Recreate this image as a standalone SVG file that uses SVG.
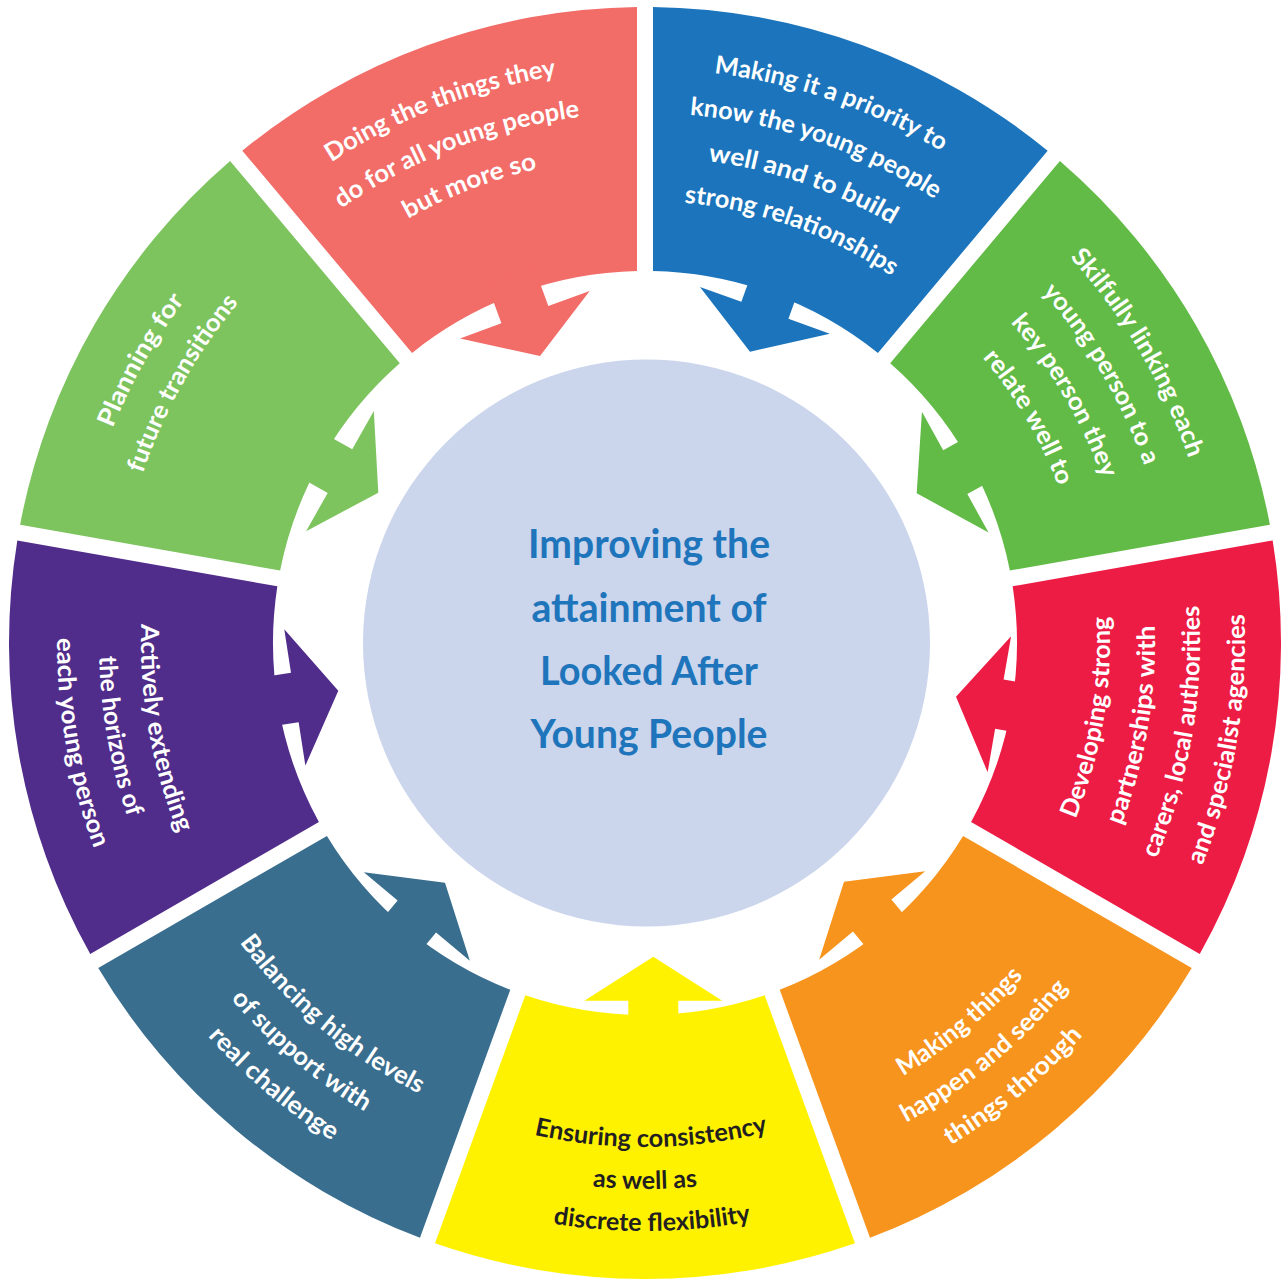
<svg xmlns="http://www.w3.org/2000/svg" width="1284" height="1279" viewBox="0 0 1284 1279">
<style>
.st { font-family: Lato, "Open Sans", sans-serif; font-weight: 700; font-size: 25px; fill: #ffffff; text-anchor: middle; }
.dark { fill: #231F20; }
.ct { font-family: Lato, "Open Sans", sans-serif; font-weight: 700; font-size: 40px; fill: #1E75BB; text-anchor: middle; }
.c1 { fill: #F26C68; }
.c2 { fill: #1C75BC; }
.c3 { fill: #62BB46; }
.c4 { fill: #ED1C45; }
.c5 { fill: #F7941D; }
.c6 { fill: #FFF200; }
.c7 { fill: #3A6E8F; }
.c8 { fill: #512D8B; }
.c9 { fill: #7DC45F; }
</style>
<defs>
<path id="sector" d="M-209.99,-600.33 A636,636 0 0 1 209.99,-600.33 L119.68,-352.22 A372,372 0 0 0 -119.68,-352.22 Z"/>
<path id="arrow" d="M0,0 L69,-44 L25,-44 L25,-84 L-25,-84 L-25,-44 L-69,-44 Z"/>
<path id="t574" d="M315.77,172.81 A574,574 0 0 1 974.23,172.81"/>
<path id="t530" d="M341.00,208.85 A530,530 0 0 1 949.00,208.85"/>
<path id="t486" d="M366.24,244.89 A486,486 0 0 1 923.76,244.89"/>
<path id="t442" d="M391.48,280.93 A442,442 0 0 1 898.52,280.93"/>
<path id="b465" d="M378.29,1023.91 A465,465 0 0 0 911.71,1023.91"/>
<path id="b504" d="M355.92,1055.85 A504,504 0 0 0 934.08,1055.85"/>
<path id="b510" d="M352.48,1060.77 A510,510 0 0 0 937.52,1060.77"/>
<path id="b546" d="M331.83,1090.26 A546,546 0 0 0 958.17,1090.26"/>
<path id="b555" d="M326.67,1097.63 A555,555 0 0 0 963.33,1097.63"/>
<path id="b588" d="M307.74,1124.66 A588,588 0 0 0 982.26,1124.66"/>
<path id="b600" d="M300.85,1134.49 A600,600 0 0 0 989.15,1134.49"/>
</defs>
<rect x="0" y="0" width="1284" height="1279" fill="#ffffff"/>

<g id="center">
<circle cx="646.5" cy="643" r="283.5" fill="#CBD5EC"/>
<text class="ct" x="649" y="558" textLength="242" lengthAdjust="spacingAndGlyphs">Improving the</text>
<text class="ct" x="649" y="621.5" textLength="235" lengthAdjust="spacingAndGlyphs">attainment of</text>
<text class="ct" x="649" y="684.5" textLength="218" lengthAdjust="spacingAndGlyphs">Looked After</text>
<text class="ct" x="649" y="748" textLength="237" lengthAdjust="spacingAndGlyphs">Young People</text>
</g>

<g id="seg-doing">
<use href="#sector" class="c1" transform="translate(645,643) rotate(-20)"/>
<text class="st" transform="rotate(-21 645 643)"><textPath href="#t574" startOffset="50%" textLength="243" lengthAdjust="spacingAndGlyphs">Doing the things they</textPath></text>
<text class="st" transform="rotate(-21 645 643)"><textPath href="#t530" startOffset="50%" textLength="258" lengthAdjust="spacingAndGlyphs">do for all young people</textPath></text>
<text class="st" transform="rotate(-21 645 643)"><textPath href="#t486" startOffset="50%" textLength="139" lengthAdjust="spacingAndGlyphs">but more so</textPath></text>
</g>

<g id="seg-priority">
<use href="#sector" class="c2" transform="translate(645,643) rotate(20)"/>
<text class="st" transform="rotate(19 645 643)"><textPath href="#t574" startOffset="50%" textLength="242" lengthAdjust="spacingAndGlyphs">Making it a priority to</textPath></text>
<text class="st" transform="rotate(19 645 643)"><textPath href="#t530" startOffset="50%" textLength="262" lengthAdjust="spacingAndGlyphs">know the young people</textPath></text>
<text class="st" transform="rotate(19 645 643)"><textPath href="#t486" startOffset="50%" textLength="196" lengthAdjust="spacingAndGlyphs">well and to build</textPath></text>
<text class="st" transform="rotate(19.5 645 643)"><textPath href="#t442" startOffset="50%" textLength="222" lengthAdjust="spacingAndGlyphs">strong relationships</textPath></text>
</g>

<g id="seg-linking">
<use href="#sector" class="c3" transform="translate(645,643) rotate(60)"/>
<text class="st" transform="rotate(59.5 645 643)"><textPath href="#t574" startOffset="50%" textLength="235" lengthAdjust="spacingAndGlyphs">Skilfully linking each</textPath></text>
<text class="st" transform="rotate(59.5 645 643)"><textPath href="#t530" startOffset="50%" textLength="203" lengthAdjust="spacingAndGlyphs">young person to a</textPath></text>
<text class="st" transform="rotate(59.5 645 643)"><textPath href="#t486" startOffset="50%" textLength="182" lengthAdjust="spacingAndGlyphs">key person they</textPath></text>
<text class="st" transform="rotate(59.5 645 643)"><textPath href="#t442" startOffset="50%" textLength="150" lengthAdjust="spacingAndGlyphs">relate well to</textPath></text>
</g>

<g id="seg-partnerships">
<use href="#sector" class="c4" transform="translate(645,643) rotate(100)"/>
<text class="st" transform="rotate(-80.5 645 643)"><textPath href="#b465" startOffset="50%" textLength="207" lengthAdjust="spacingAndGlyphs">Developing strong</textPath></text>
<text class="st" transform="rotate(-80.5 645 643)"><textPath href="#b510" startOffset="50%" textLength="204" lengthAdjust="spacingAndGlyphs">partnerships with</textPath></text>
<text class="st" transform="rotate(-80.5 645 643)"><textPath href="#b555" startOffset="50%" textLength="259" lengthAdjust="spacingAndGlyphs">carers, local authorities</textPath></text>
<text class="st" transform="rotate(-80.5 645 643)"><textPath href="#b600" startOffset="50%" textLength="257" lengthAdjust="spacingAndGlyphs">and specialist agencies</textPath></text>
</g>

<g id="seg-making">
<use href="#sector" class="c5" transform="translate(645,643) rotate(140)"/>
<text class="st" transform="rotate(-39.7 645 643)"><textPath href="#b504" startOffset="50%" textLength="157" lengthAdjust="spacingAndGlyphs">Making things</textPath></text>
<text class="st" transform="rotate(-39.7 645 643)"><textPath href="#b546" startOffset="50%" textLength="212" lengthAdjust="spacingAndGlyphs">happen and seeing</textPath></text>
<text class="st" transform="rotate(-39.7 645 643)"><textPath href="#b588" startOffset="50%" textLength="173" lengthAdjust="spacingAndGlyphs">things through</textPath></text>
</g>

<g id="seg-consistency">
<use href="#sector" class="c6" transform="translate(645,643) rotate(180)"/>
<text class="st dark" transform="rotate(-0.7 645 643)"><textPath href="#b504" startOffset="50%" textLength="236" lengthAdjust="spacingAndGlyphs">Ensuring consistency</textPath></text>
<text class="st dark"><textPath href="#b546" startOffset="50%" textLength="105" lengthAdjust="spacingAndGlyphs">as well as</textPath></text>
<text class="st dark" transform="rotate(-0.7 645 643)"><textPath href="#b588" startOffset="50%" textLength="199" lengthAdjust="spacingAndGlyphs">discrete flexibility</textPath></text>
</g>

<g id="seg-balancing">
<use href="#sector" class="c7" transform="translate(645,643) rotate(220)"/>
<text class="st" transform="rotate(40.1 645 643)"><textPath href="#b504" startOffset="50%" textLength="237" lengthAdjust="spacingAndGlyphs">Balancing high levels</textPath></text>
<text class="st" transform="rotate(40.1 645 643)"><textPath href="#b546" startOffset="50%" textLength="176" lengthAdjust="spacingAndGlyphs">of support with</textPath></text>
<text class="st" transform="rotate(40.1 645 643)"><textPath href="#b588" startOffset="50%" textLength="163" lengthAdjust="spacingAndGlyphs">real challenge</textPath></text>
</g>

<g id="seg-horizons">
<use href="#sector" class="c8" transform="translate(645,643) rotate(260)"/>
<text class="st" transform="rotate(80 645 643)"><textPath href="#b504" startOffset="50%" textLength="214" lengthAdjust="spacingAndGlyphs">Actively extending</textPath></text>
<text class="st" transform="rotate(80 645 643)"><textPath href="#b546" startOffset="50%" textLength="164" lengthAdjust="spacingAndGlyphs">the horizons of</textPath></text>
<text class="st" transform="rotate(80 645 643)"><textPath href="#b588" startOffset="50%" textLength="215" lengthAdjust="spacingAndGlyphs">each young person</textPath></text>
</g>

<g id="seg-transitions">
<use href="#sector" class="c9" transform="translate(645,643) rotate(-60)"/>
<text class="st" transform="rotate(-60.7 645 643)"><textPath href="#t574" startOffset="50%" textLength="147" lengthAdjust="spacingAndGlyphs">Planning for</textPath></text>
<text class="st" transform="rotate(-60.7 645 643)"><textPath href="#t530" startOffset="50%" textLength="197" lengthAdjust="spacingAndGlyphs">future transitions</textPath></text>
</g>

<g id="connectors">
<use href="#arrow" class="c1" transform="translate(540,356) rotate(-20.1)"/>
<use href="#arrow" class="c2" transform="translate(750,351.7) rotate(19.8)"/>
<use href="#arrow" class="c3" transform="translate(916.7,493.3) rotate(61.15)"/>
<use href="#arrow" class="c4" transform="translate(956,696.7) rotate(99.8)"/>
<use href="#arrow" class="c5" transform="translate(844,881.7) rotate(140.2)"/>
<use href="#arrow" class="c6" transform="translate(653.3,956.7) rotate(180)"/>
<use href="#arrow" class="c7" transform="translate(445,882.7) rotate(219.8)"/>
<use href="#arrow" class="c8" transform="translate(338.3,690.7) rotate(261.2)"/>
<use href="#arrow" class="c9" transform="translate(378.3,492.7) rotate(-60.6)"/>
</g>
</svg>
